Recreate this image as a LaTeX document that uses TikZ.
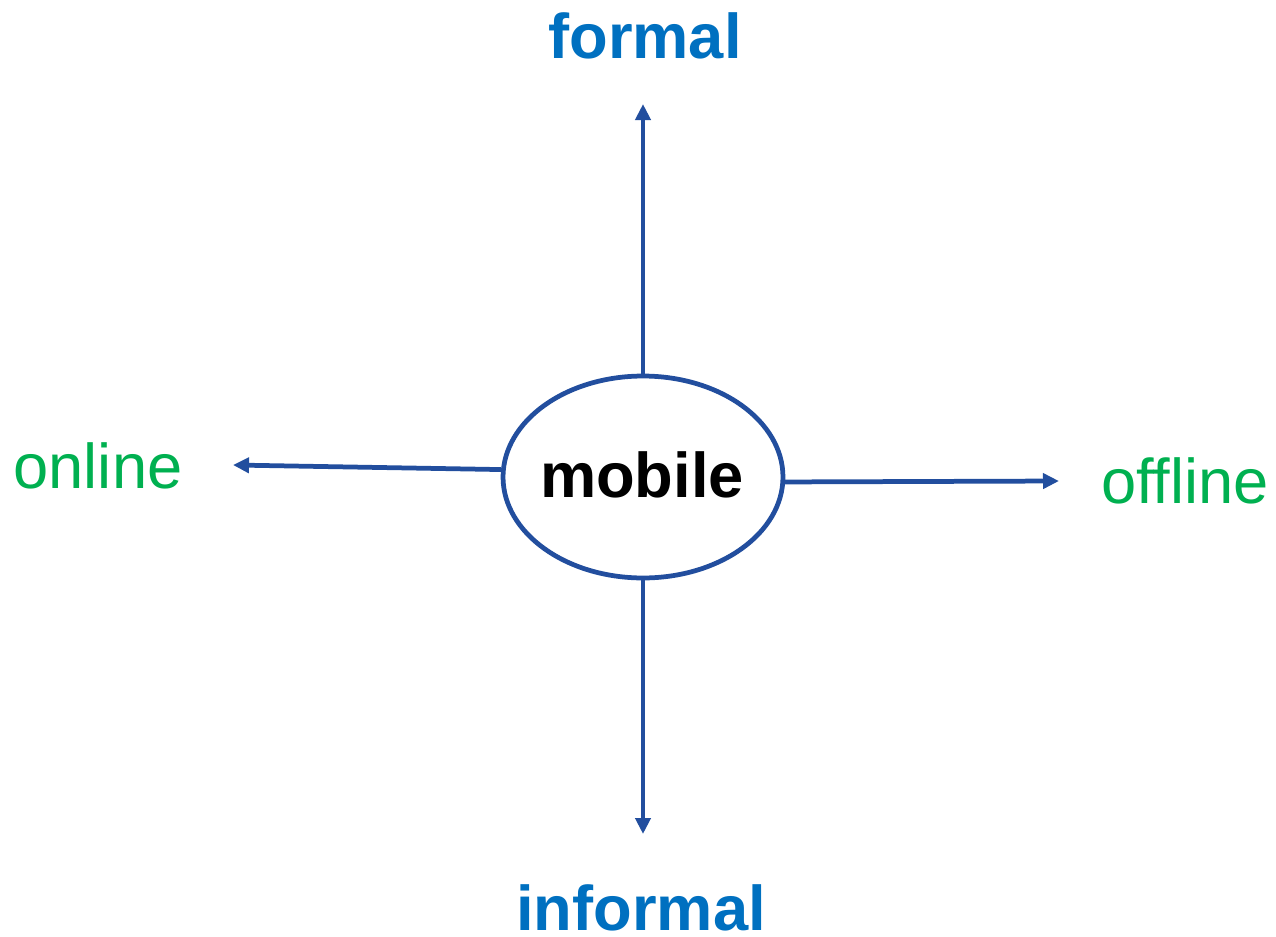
\documentclass[tikz,border=0pt]{standalone}
\usepackage{fontspec}
\setmainfont{Liberation Sans}
\usetikzlibrary{arrows.meta,shapes.geometric}
\definecolor{linecol}{RGB}{34,78,158}
\definecolor{bluetext}{RGB}{0,112,192}
\definecolor{greentext}{RGB}{0,176,80}
\tikzset{
  conn/.style={draw=linecol, line width=0.095cm, -{Triangle[length=0.32cm,width=0.3cm]}},
  hub/.style={ellipse, draw=linecol, line width=0.095cm, fill=white, minimum width=5.6cm, minimum height=4.04cm, inner sep=0pt},
  hubtext/.style={inner sep=0pt, font=\fontsize{36}{43}\selectfont\bfseries, text=black},
  axisbold/.style={anchor=base, inner sep=0pt, font=\fontsize{36}{43}\selectfont\bfseries, text=bluetext},
  axisplain/.style={anchor=base, inner sep=0pt, font=\fontsize{36}{43}\selectfont, text=greentext}
}
\begin{document}
\begin{tikzpicture}[x=0.02cm,y=0.02cm]
\useasboundingbox (0,0) rectangle (1276,-937);
\node[hub] (m) at (643,-477) {};
\node[hubtext, anchor=base] (mtext) at (642,-497) {mobile};
\node[axisbold] (formal) at (645,-58) {formal};
\node[axisbold] (informal) at (641,-930) {informal};
\node[axisplain] (online) at (98,-488) {online};
\node[axisplain] (offline) at (1185,-503) {offline};
\coordinate (tup) at (643,-104);
\coordinate (tdown) at (643,-834);
\coordinate (tleft) at (233,-465);
\coordinate (tright) at (1059,-481);
\draw[conn] (m.north) -- (tup);
\draw[conn] (m.south) -- (tdown);
\draw[conn] (m.177.5) -- (tleft);
\draw[conn] (m.-2.3) -- (tright);
\end{tikzpicture}
\end{document}
